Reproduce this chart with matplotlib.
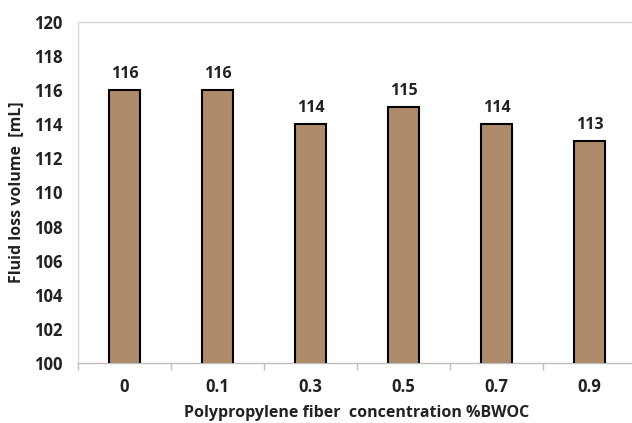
import matplotlib.pyplot as plt
import numpy as np

# data
concentrations = ['0', '0.1', '0.3', '0.5', '0.7', '0.9']
fluid_loss = [116, 116, 114, 115, 114, 113]

plt.rcParams['font.family'] = ['Open Sans', 'DejaVu Sans']
plt.rcParams['font.weight'] = 'bold'

fig = plt.figure(figsize=(6.32, 4.23), dpi=100)
ax = fig.add_axes([78 / 632, 60 / 423, 558 / 632, 341 / 423])

x = np.arange(len(concentrations))
bars = ax.bar(x, fluid_loss, width=0.34, color='#AE8B6B',
              edgecolor='black', linewidth=1.5, zorder=3)

for xi, v in zip(x, fluid_loss):
    ax.text(xi, v + 0.5, str(v), ha='center', va='bottom',
            fontsize=11.5, fontweight='bold', color='#222222')

ax.set_xlim(-0.5, len(concentrations) - 0.5)
ax.set_ylim(100, 120)
ax.set_yticks(range(100, 121, 2))
ax.set_xticks(x)
ax.set_xticklabels(concentrations)
ax.set_xticks(np.arange(-0.5, len(concentrations), 1), minor=True)

ax.tick_params(axis='y', length=0, pad=11, labelsize=12, labelcolor='#222222')
ax.tick_params(axis='x', which='major', length=0, pad=11, labelsize=12,
               labelcolor='#222222')
ax.tick_params(axis='x', which='minor', length=5, color='#bfbfbf', width=1)

for s in ['top', 'left']:
    ax.spines[s].set_color('#d9d9d9')
    ax.spines[s].set_linewidth(1)
ax.spines['bottom'].set_color('#bfbfbf')
ax.spines['bottom'].set_linewidth(1)
ax.spines['right'].set_visible(False)

ax.set_ylabel('Fluid loss volume  [mL]', fontsize=11.5, fontweight='bold',
              color='#222222', labelpad=7)
ax.set_xlabel('Polypropylene fiber  concentration %BWOC', fontsize=11.5,
              fontweight='bold', color='#222222', labelpad=6)

fig.savefig('out.png', dpi=100)
